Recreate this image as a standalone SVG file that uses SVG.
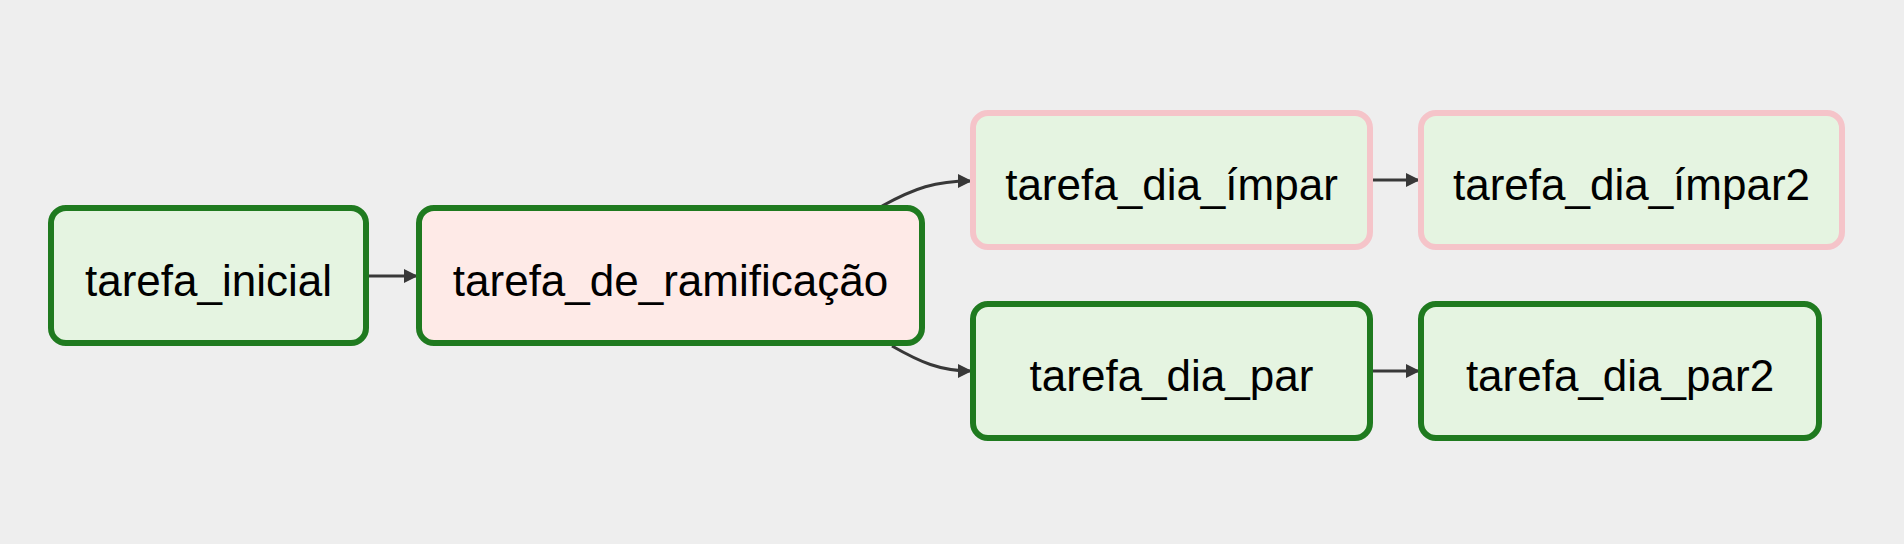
<svg xmlns="http://www.w3.org/2000/svg" width="1904" height="544" viewBox="0 0 1904 544">
<defs>
<style>
.node rect{stroke-width:6}
.ok rect{stroke:#1f7a1f}
.skip rect{stroke:#f5c4c9}
.gf{fill:#e5f4e1}
.pf{fill:#feeae7}
.node text{font-family:"Liberation Sans",Arial,sans-serif;font-size:44px;fill:#000;text-anchor:middle}
.edge{fill:none;stroke:#383838;stroke-width:3}
</style>
<marker id="ah" viewBox="0 0 14 14" refX="13" refY="7" markerWidth="14" markerHeight="14" markerUnits="userSpaceOnUse" orient="auto">
<path d="M0,0 L14,7 L0,14 z" fill="#383838"/>
</marker>
</defs>
<rect width="1904" height="544" fill="#eeeeee"/>
<g id="connectors">
<path class="edge" d="M369,276 L417,276" marker-end="url(#ah)"/>
<path class="edge" d="M882,206 C915,188 935,181 971,181" marker-end="url(#ah)"/>
<path class="edge" d="M892,346 C920,362 940,371 971,371" marker-end="url(#ah)"/>
<path class="edge" d="M1373,180 L1419,180" marker-end="url(#ah)"/>
<path class="edge" d="M1370,371 L1419,371" marker-end="url(#ah)"/>
</g>
<g id="tarefa_inicial" class="node ok">
<rect class="gf" x="51" y="208" width="315" height="135" rx="15"/>
<text x="208.5" y="296">tarefa_inicial</text>
</g>
<g id="tarefa_de_ramificacao" class="node ok">
<rect class="pf" x="419" y="208" width="503" height="135" rx="15"/>
<text x="670.5" y="296">tarefa_de_ramificação</text>
</g>
<g id="tarefa_dia_impar" class="node skip">
<rect class="gf" x="973" y="113" width="397" height="134" rx="15"/>
<text x="1171.5" y="200">tarefa_dia_ímpar</text>
</g>
<g id="tarefa_dia_impar2" class="node skip">
<rect class="gf" x="1421" y="113" width="421" height="134" rx="15"/>
<text x="1631.5" y="200">tarefa_dia_ímpar2</text>
</g>
<g id="tarefa_dia_par" class="node ok">
<rect class="gf" x="973" y="304" width="397" height="134" rx="15"/>
<text x="1171.5" y="391">tarefa_dia_par</text>
</g>
<g id="tarefa_dia_par2" class="node ok">
<rect class="gf" x="1421" y="304" width="398" height="134" rx="15"/>
<text x="1620" y="391">tarefa_dia_par2</text>
</g>
</svg>
